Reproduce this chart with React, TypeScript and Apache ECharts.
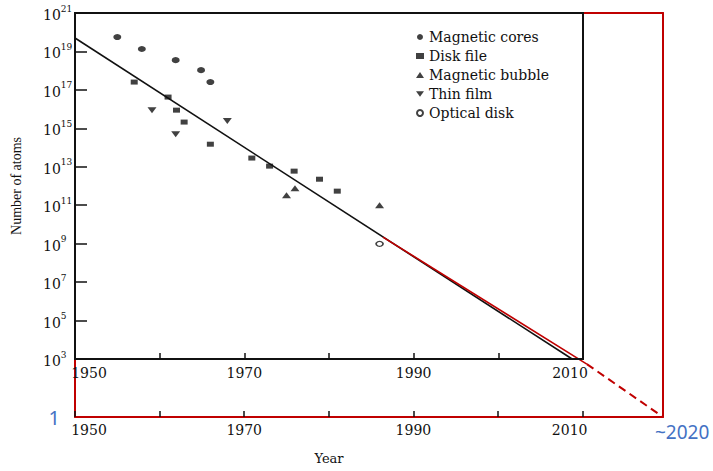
import React, { useEffect, useRef } from "react";
import * as echarts from "echarts";

// ---- data (x = year, y = log10(number of atoms)) ----
const magneticCoresYear = [1955.0, 1957.9, 1961.9, 1964.9, 1966.0];
const magneticCoresExp = [19.75, 19.13, 18.55, 18.03, 17.41];

const diskFileYear = [1957.0, 1961.0, 1962.0, 1962.9, 1966.0, 1970.9, 1973.0, 1975.9, 1978.9, 1981.0];
const diskFileExp = [17.41, 16.63, 15.95, 15.33, 14.18, 13.46, 13.04, 12.78, 12.36, 11.74];

const magneticBubbleYear = [1975.0, 1976.0, 1986.0];
const magneticBubbleExp = [11.53, 11.89, 11.01];

const thinFilmYear = [1959.1, 1961.9, 1968.0];
const thinFilmExp = [15.95, 14.7, 15.38];

const opticalDiskYear = [1986.0];
const opticalDiskExp = [9.0];

// trend line
const trendYear = [1950, 2008.8];
const trendExp = [19.7, 3.0];
const redSolidYear = [1986.4, 2010.5];
const redSolidExp = [9.35, 2.75];
const redDashYear = [2010.5, 2019.5];
const redDashExp = [2.75, 0];

// axis ticks / labels
const yTickExponents = [3, 5, 7, 9, 11, 13, 15, 17, 19, 21];
const xTickYears = [1950, 1960, 1970, 1980, 1990, 2000, 2010];
const xLabelYears = [1950, 1970, 1990, 2010];
const seriesNames = ["Magnetic cores", "Disk file", "Magnetic bubble", "Thin film", "Optical disk"];

const zip = (xs: number[], ys: number[]) => xs.map((x, i) => [x, ys[i]]);

const BLACK = "#111111";
const RED = "#C00000";
const BLUE = "#4472C4";
const SERIF = "'DejaVu Serif', serif";

export default function App() {
  const ref = useRef<HTMLDivElement>(null);

  useEffect(() => {
    if (!ref.current) return;
    const chart = echarts.init(ref.current, undefined, { renderer: "svg" });

    const L = 75;
    const T = 13;
    const W0 = 508;
    const H0 = 346;
    const pxYear = W0 / 60;
    const pxExp = H0 / 18;
    const xMax1 = 2019.5;
    const W1 = Math.round(pxYear * (xMax1 - 1950));
    const H1 = Math.round(pxExp * 21);

    const yearLabel = (v: number) => {
      if (!xLabelYears.includes(v)) return "";
      if (v === 1950) return `{l|${v}}`;
      if (v === 2010) return `{r|${v}}`;
      return `{c|${v}}`;
    };
    const yearRich = {
      l: { fontFamily: SERIF, fontSize: 14, color: BLACK, padding: [0, 0, 0, 28] },
      r: { fontFamily: SERIF, fontSize: 14, color: BLACK, padding: [0, 26, 0, 0] },
      c: { fontFamily: SERIF, fontSize: 14, color: BLACK },
    };
    const redLine = { show: true, onZero: false, lineStyle: { color: RED, width: 2 } };
    const hidden = { show: false };

    // grid 0: extended red frame (to 10^0 and ~2020); grid 1: original black frame
    const option: any = {
      animation: false,
      backgroundColor: "#ffffff",
      grid: [
        {
          left: L,
          top: T,
          width: W1,
          height: H1,
          show: false,
          containLabel: false,
          outerBoundsMode: "none",
        },
        {
          left: L,
          top: T,
          width: W0,
          height: H0,
          show: true,
          borderColor: BLACK,
          borderWidth: 2,
          backgroundColor: "transparent",
          containLabel: false,
          outerBoundsMode: "none",
          z: 6,
        },
      ],
      xAxis: [
        {
          gridIndex: 0,
          type: "value",
          min: 1950,
          max: xMax1,
          z: 1,
          axisLine: redLine,
          axisTick: {
            show: true,
            inside: true,
            length: 6,
            customValues: xTickYears,
            lineStyle: { color: BLACK, width: 1.5 },
          },
          splitLine: hidden,
          axisLabel: {
            margin: 6,
            customValues: xLabelYears,
            formatter: yearLabel,
            rich: yearRich,
          },
        },
        {
          gridIndex: 1,
          type: "value",
          min: 1950,
          max: 2010,
          interval: 10,
          z: 7,
          axisLine: hidden,
          axisTick: { show: true, inside: true, length: 6, lineStyle: { color: BLACK, width: 1.5 } },
          splitLine: hidden,
          axisLabel: { interval: 1, margin: 7, formatter: yearLabel, rich: yearRich },
          name: "Year",
          nameLocation: "middle",
          nameGap: 93,
          nameTextStyle: { fontFamily: SERIF, fontSize: 13, color: BLACK },
        },
        {
          gridIndex: 0,
          type: "value",
          position: "top",
          min: 1950,
          max: xMax1,
          z: 1,
          axisLine: redLine,
          axisTick: hidden,
          axisLabel: hidden,
          splitLine: hidden,
        },
      ],
      yAxis: [
        {
          gridIndex: 0,
          type: "value",
          min: 0,
          max: 21,
          z: 1,
          axisLine: redLine,
          axisTick: hidden,
          splitLine: hidden,
          axisLabel: {
            customValues: [0],
            margin: 15,
            formatter: (v: number) => (v === 0 ? "1" : ""),
            color: BLUE,
            fontFamily: "Noto Sans",
            fontSize: 20,
          },
        },
        {
          gridIndex: 1,
          type: "value",
          min: 3,
          max: 21,
          interval: 2,
          z: 7,
          axisLine: hidden,
          axisTick: { show: true, inside: true, length: 12, lineStyle: { color: BLACK, width: 1.5 } },
          splitLine: hidden,
          axisLabel: {
            align: "left",
            margin: 32,
            formatter: (v: number) => (yTickExponents.includes(v) ? `{b|10}{s|${v}}` : ""),
            rich: {
              b: { fontFamily: SERIF, fontSize: 14, color: BLACK, lineHeight: 18, verticalAlign: "bottom" },
              s: { fontFamily: SERIF, fontSize: 9, color: BLACK, lineHeight: 18, verticalAlign: "top" },
            },
          },
          name: "Number of atoms",
          nameLocation: "middle",
          nameGap: 52,
          nameRotate: 90,
          nameTextStyle: { fontFamily: "'Liberation Serif', serif", fontSize: 14, color: BLACK },
        },
        {
          gridIndex: 0,
          type: "value",
          position: "right",
          min: 0,
          max: 21,
          z: 1,
          axisLine: redLine,
          axisTick: hidden,
          axisLabel: hidden,
          splitLine: hidden,
        },
      ],
      legend: {
        data: seriesNames,
        orient: "vertical",
        left: 411,
        top: 25,
        itemWidth: 8,
        itemHeight: 6,
        itemGap: 5,
        textStyle: { fontFamily: SERIF, fontSize: 14, color: BLACK },
        selectedMode: false,
      },
      series: [
        {
          type: "line",
          data: zip(trendYear, trendExp),
          showSymbol: false,
          symbol: "none",
          lineStyle: { color: BLACK, width: 1.6 },
          z: 3,
        },
        {
          type: "line",
          data: zip(redSolidYear, redSolidExp),
          showSymbol: false,
          symbol: "none",
          lineStyle: { color: RED, width: 1.6 },
          z: 4,
        },
        {
          type: "line",
          data: zip(redDashYear, redDashExp),
          showSymbol: false,
          symbol: "none",
          lineStyle: { color: RED, width: 2, type: [8, 5] },
          z: 4,
        },
        {
          type: "scatter",
          z: 5,
          name: seriesNames[0],
          data: zip(magneticCoresYear, magneticCoresExp),
          symbol: "circle",
          symbolSize: [8, 6],
          itemStyle: { color: BLACK },
        },
        {
          type: "scatter",
          z: 5,
          name: seriesNames[1],
          data: zip(diskFileYear, diskFileExp),
          symbol: "rect",
          symbolSize: [7, 5],
          itemStyle: { color: BLACK },
        },
        {
          type: "scatter",
          z: 5,
          name: seriesNames[2],
          data: zip(magneticBubbleYear, magneticBubbleExp),
          symbol: "triangle",
          symbolSize: [9, 6],
          itemStyle: { color: BLACK },
        },
        {
          type: "scatter",
          z: 5,
          name: seriesNames[3],
          data: zip(thinFilmYear, thinFilmExp),
          symbol: "path://M0,0 L10,0 L5,7 Z",
          symbolSize: [9, 6],
          itemStyle: { color: BLACK },
        },
        {
          type: "scatter",
          z: 5,
          name: seriesNames[4],
          data: zip(opticalDiskYear, opticalDiskExp),
          symbol: "circle",
          symbolSize: [7, 5],
          itemStyle: { color: "#ffffff", borderColor: BLACK, borderWidth: 1.5 },
        },
      ],
      graphic: [
        {
          type: "text",
          left: 655,
          top: 422,
          style: { text: "~2020", fill: BLUE, font: '19px "Noto Sans"' },
        },
      ],
    };

    chart.setOption(option);
    return () => chart.dispose();
  }, []);

  return (
    <div
      ref={ref}
      style={{ position: "absolute", left: 0, top: 0, width: 713, height: 471, background: "#fff" }}
    />
  );
}
